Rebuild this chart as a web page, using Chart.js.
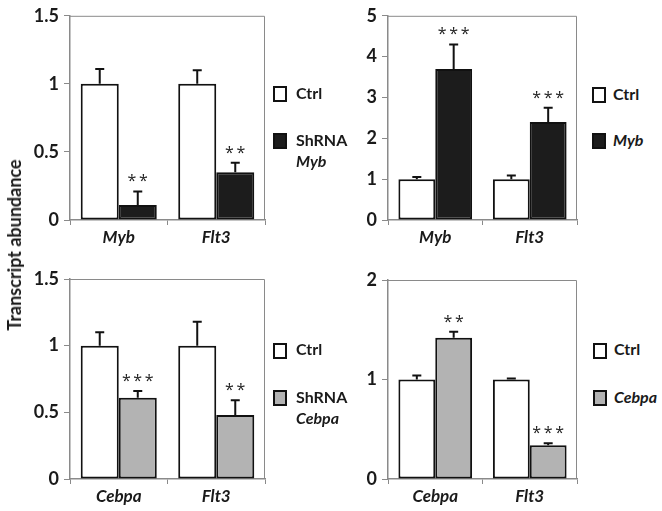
<!DOCTYPE html>
<html>
<head>
<meta charset="utf-8">
<script src="https://cdn.jsdelivr.net/npm/chart.js@4"></script>
<style>
  body { margin: 0; background: #fff; }
  #wrap { position: relative; width: 662px; height: 511px; background: #fff; font-family: Lato, sans-serif; color: #1a1a1a; }
  canvas { position: absolute; }
  .box { position: absolute; width: 10px; height: 12px; border: 2px solid #111; box-sizing: content-box; }
  .lbl { position: absolute; font-size: 16px; font-weight: bold; line-height: 20px; white-space: nowrap; }
  .it { font-style: italic; }
  #ytitle { position: absolute; left: 14px; top: 245px; transform: translate(-50%, -50%) rotate(-90deg); font-size: 18px; font-weight: bold; white-space: nowrap; }
</style>
</head>
<body>
<div id="wrap">
  <canvas id="c1" width="260" height="250" style="left:10px;top:0px"></canvas>
  <canvas id="c2" width="252" height="250" style="left:330px;top:0px"></canvas>
  <canvas id="c3" width="260" height="260" style="left:10px;top:250px"></canvas>
  <canvas id="c4" width="252" height="260" style="left:330px;top:250px"></canvas>

  <div id="ytitle">Transcript abundance</div>

  <!-- legends -->
  <div class="box" style="left:273px;top:86px;background:#fff"></div>
  <div class="lbl" style="left:296px;top:83px">Ctrl</div>
  <div class="box" style="left:273px;top:133px;background:#1c1c1c"></div>
  <div class="lbl" style="left:296px;top:130px">ShRNA</div>
  <div class="lbl it" style="left:296px;top:151px">Myb</div>

  <div class="box" style="left:592px;top:87px;background:#fff"></div>
  <div class="lbl" style="left:613px;top:84px">Ctrl</div>
  <div class="box" style="left:592px;top:133px;background:#1c1c1c"></div>
  <div class="lbl it" style="left:613px;top:130px">Myb</div>

  <div class="box" style="left:273px;top:343px;background:#fff"></div>
  <div class="lbl" style="left:296px;top:339px">Ctrl</div>
  <div class="box" style="left:273px;top:390px;background:#b3b3b3"></div>
  <div class="lbl" style="left:296px;top:387px">ShRNA</div>
  <div class="lbl it" style="left:296px;top:408px">Cebpa</div>

  <div class="box" style="left:593px;top:343px;background:#fff"></div>
  <div class="lbl" style="left:614px;top:339px">Ctrl</div>
  <div class="box" style="left:593px;top:390px;background:#b3b3b3"></div>
  <div class="lbl it" style="left:614px;top:387px">Cebpa</div>
</div>

<script>
// categories
const catsTop = ['Myb', 'Flt3'];
const catsBottom = ['Cebpa', 'Flt3'];

// panel 1: ShRNA Myb
const p1Ctrl = [1, 1];
const p1CtrlErr = [0.11, 0.10];
const p1Trt = [0.11, 0.35];
const p1TrtErr = [0.10, 0.07];
const p1Stars = ['**', '**'];

// panel 2: Myb overexpression
const p2Ctrl = [1, 1];
const p2CtrlErr = [0.05, 0.09];
const p2Trt = [3.7, 2.4];
const p2TrtErr = [0.6, 0.35];
const p2Stars = ['***', '***'];

// panel 3: ShRNA Cebpa
const p3Ctrl = [1, 1];
const p3CtrlErr = [0.10, 0.18];
const p3Trt = [0.61, 0.48];
const p3TrtErr = [0.05, 0.11];
const p3Stars = ['***', '**'];

// panel 4: Cebpa overexpression
const p4Ctrl = [1, 1];
const p4CtrlErr = [0.04, 0.01];
const p4Trt = [1.42, 0.34];
const p4TrtErr = [0.06, 0.02];
const p4Stars = ['**', '***'];

const axisGray = '#8a8a8a';
const FONT = 'Lato, sans-serif';

// error bars (upward only) + significance stars
const errPlugin = {
    id: 'errs',
    afterDatasetsDraw(chart) {
        const ctx = chart.ctx;
        const yScale = chart.scales.y;
        ctx.save();
        chart.data.datasets.forEach((ds, i) => {
            const meta = chart.getDatasetMeta(i);
            meta.data.forEach((bar, j) => {
                const top = yScale.getPixelForValue(ds.data[j] + ds.err[j]);
                ctx.strokeStyle = '#111';
                ctx.lineWidth = 2;
                ctx.beginPath();
                ctx.moveTo(bar.x, bar.y);
                ctx.lineTo(bar.x, top);
                ctx.moveTo(bar.x - 4.5, top);
                ctx.lineTo(bar.x + 4.5, top);
                ctx.stroke();
                if (ds.stars && ds.stars[j]) {
                    ctx.fillStyle = '#222';
                    ctx.font = '16px "Open Sans", sans-serif';
                    ctx.textAlign = 'center';
                    ctx.textBaseline = 'alphabetic';
                    ctx.fillText(ds.stars[j].split('').join('\u2009'), bar.x, top - 5);
                }
            });
        });
        ctx.restore();
    },
    afterDraw(chart) {
        const a = chart.chartArea;
        const ctx = chart.ctx;
        ctx.save();
        ctx.strokeStyle = axisGray;
        ctx.lineWidth = 1;
        ctx.beginPath();
        ctx.moveTo(a.left, a.top + 0.5);
        ctx.lineTo(a.right - 0.5, a.top + 0.5);
        ctx.lineTo(a.right - 0.5, a.bottom);
        ctx.stroke();
        ctx.restore();
    }
};

function makeChart(id, cats, ctrl, ctrlErr, trt, trtErr, trtColor, stars, yMax, yStep, pad, yWidth, xHeight) {
    return new Chart(document.getElementById(id), {
        type: 'bar',
        data: {
            labels: cats,
            datasets: [
                { data: ctrl, err: ctrlErr, backgroundColor: '#ffffff', borderColor: '#111', borderWidth: 2, borderSkipped: false },
                { data: trt, err: trtErr, stars: stars, backgroundColor: trtColor, borderColor: '#111', borderWidth: 2, borderSkipped: false }
            ]
        },
        options: {
            responsive: false,
            animation: false,
            devicePixelRatio: 1,
            layout: { padding: pad },
            plugins: { legend: { display: false }, tooltip: { enabled: false } },
            datasets: { bar: { categoryPercentage: 0.78, barPercentage: 1 } },
            scales: {
                x: {
                    grid: { display: true, drawOnChartArea: false, offset: true, tickLength: 5, color: axisGray, lineWidth: 1 },
                    border: { color: axisGray, width: 1.5 },
                    ticks: { color: '#1a1a1a', font: { family: FONT, size: 17, weight: 'bold', style: 'italic' }, padding: 2 },
                    afterFit(s) { s.height = xHeight; }
                },
                y: {
                    min: 0, max: yMax,
                    grid: { display: true, drawOnChartArea: false, tickLength: 6, color: axisGray, lineWidth: 1 },
                    border: { color: axisGray, width: 1.5 },
                    ticks: {
                        stepSize: yStep, color: '#1a1a1a', padding: 5,
                        font: { family: FONT, size: 18, weight: 'bold' },
                        callback: v => String(v)
                    },
                    afterFit(s) { s.width = yWidth; }
                }
            }
        },
        plugins: [errPlugin]
    });
}

makeChart('c1', catsTop, p1Ctrl, p1CtrlErr, p1Trt, p1TrtErr, '#1c1c1c', p1Stars, 1.5, 0.5,
    { top: 12, right: 5, left: 0, bottom: 0 }, 60, 30);
makeChart('c2', catsTop, p2Ctrl, p2CtrlErr, p2Trt, p2TrtErr, '#1c1c1c', p2Stars, 5, 1,
    { top: 12, right: 5, left: 0, bottom: 0 }, 58, 30);
makeChart('c3', catsBottom, p3Ctrl, p3CtrlErr, p3Trt, p3TrtErr, '#b3b3b3', p3Stars, 1.5, 0.5,
    { top: 29, right: 5, left: 0, bottom: 0 }, 60, 31);
makeChart('c4', catsBottom, p4Ctrl, p4CtrlErr, p4Trt, p4TrtErr, '#b3b3b3', p4Stars, 2, 1,
    { top: 30, right: 5, left: 0, bottom: 0 }, 58, 31);
</script>
</body>
</html>
